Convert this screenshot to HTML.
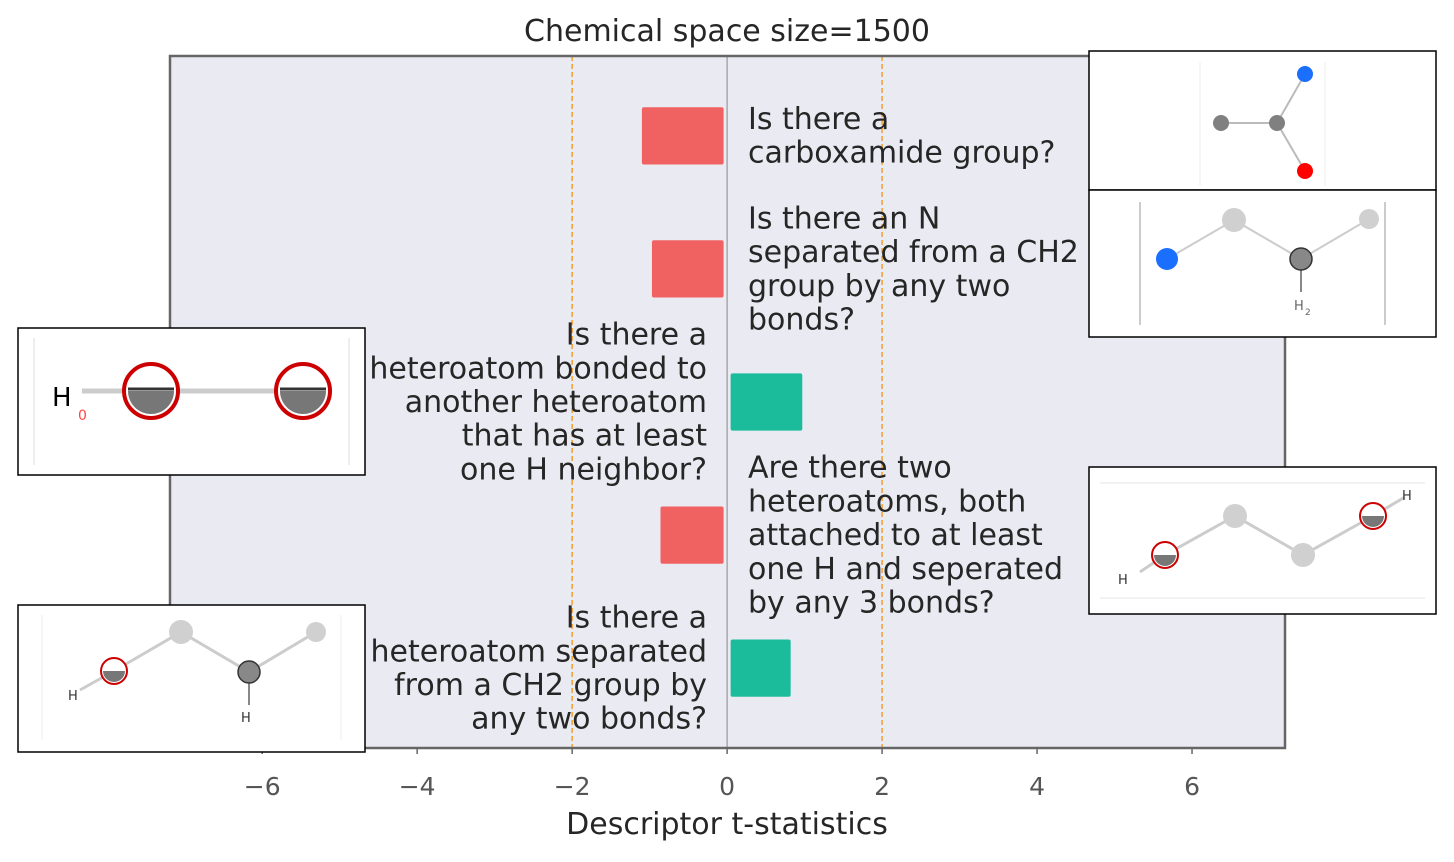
<!DOCTYPE html>
<html><head><meta charset="utf-8"><style>
body{margin:0;background:#fff;}
svg text{font-family:"DejaVu Sans","Liberation Sans",sans-serif;}
</style></head><body>
<svg id="chart" width="1454" height="857" xmlns="http://www.w3.org/2000/svg">
<rect x="0" y="0" width="1454" height="857" fill="#fff"/>
<text x="727" y="41" font-size="30" text-anchor="middle" fill="#262626">Chemical space size=1500</text>
<rect x="170" y="56" width="1115" height="692" fill="#eaeaf2"/>
<g id="grid"></g>
<g id="bars"></g>
<g id="labels"></g>
<rect x="170" y="56" width="1115" height="692" fill="none" stroke="#666" stroke-width="2.5"/>
<g id="ticks"></g>
<text x="727" y="834" font-size="30" text-anchor="middle" fill="#262626">Descriptor t-statistics</text>

<g>
<rect x="1089" y="51" width="347" height="139" fill="#fff" stroke="#000" stroke-width="1.5"/>
<line x1="1200" y1="62" x2="1200" y2="186" stroke="#eee"/><line x1="1325" y1="62" x2="1325" y2="186" stroke="#eee"/>
<line x1="1221" y1="123" x2="1277" y2="123" stroke="#bbb" stroke-width="2"/>
<line x1="1277" y1="123" x2="1305" y2="74" stroke="#bbb" stroke-width="2"/>
<line x1="1277" y1="123" x2="1305" y2="171" stroke="#bbb" stroke-width="2"/>
<circle cx="1221" cy="123" r="8" fill="#808080"/><circle cx="1277" cy="123" r="8" fill="#808080"/>
<circle cx="1305" cy="74" r="8" fill="#1a6fff"/><circle cx="1305" cy="171" r="8" fill="#ff0000"/>
</g>
<g>
<rect x="1089" y="190" width="347" height="147" fill="#fff" stroke="#000" stroke-width="1.5"/>
<line x1="1140" y1="202" x2="1140" y2="325" stroke="#ccc" stroke-width="2"/><line x1="1385" y1="202" x2="1385" y2="325" stroke="#ccc" stroke-width="2"/>
<polyline points="1167,259 1234,220 1301,259 1369,219" fill="none" stroke="#ccc" stroke-width="2"/>
<line x1="1301" y1="259" x2="1301" y2="292" stroke="#888" stroke-width="2"/>
<circle cx="1167" cy="259" r="11" fill="#1a6fff"/><circle cx="1234" cy="220" r="12" fill="#d0d0d0"/>
<circle cx="1369" cy="219" r="10" fill="#d0d0d0"/><circle cx="1301" cy="259" r="11" fill="#888" stroke="#333" stroke-width="1.5"/>
<text x="1294" y="310" font-size="13" fill="#666">H</text><text x="1305" y="315" font-size="9" fill="#666">2</text>
</g>
<g>
<rect x="18" y="328" width="347" height="147" fill="#fff" stroke="#000" stroke-width="1.5"/>
<line x1="34" y1="338" x2="34" y2="465" stroke="#ddd"/><line x1="349" y1="338" x2="349" y2="465" stroke="#ddd"/>
<line x1="82" y1="391" x2="305" y2="391" stroke="#ccc" stroke-width="5"/>
<text x="52" y="406" font-size="26" fill="#000">H</text><text x="78" y="420" font-size="14" fill="#f44">0</text>
<circle cx="151" cy="391" r="27" fill="#fff" stroke="#c00" stroke-width="4"/>
<path d="M128,391 A23,23 0 0 0 174,391 Z" fill="#777"/><line x1="128" y1="389" x2="174" y2="389" stroke="#333" stroke-width="3"/>
<circle cx="303" cy="391" r="27" fill="#fff" stroke="#c00" stroke-width="4"/>
<path d="M280,391 A23,23 0 0 0 326,391 Z" fill="#777"/><line x1="280" y1="389" x2="326" y2="389" stroke="#333" stroke-width="3"/>
</g>
<g>
<rect x="1089" y="467" width="347" height="147" fill="#fff" stroke="#000" stroke-width="1.5"/>
<line x1="1100" y1="483" x2="1425" y2="483" stroke="#e5e5e5"/><line x1="1100" y1="598" x2="1425" y2="598" stroke="#e5e5e5"/>
<polyline points="1140,572 1165,555 1235,516 1303,555 1373,516 1405,497" fill="none" stroke="#ccc" stroke-width="3"/>
<circle cx="1235" cy="516" r="12" fill="#d0d0d0"/><circle cx="1303" cy="555" r="12" fill="#d0d0d0"/>
<circle cx="1165" cy="555" r="13" fill="#fff" stroke="#c00" stroke-width="2"/><path d="M1154,555 A11,11 0 0 0 1176,555 Z" fill="#777"/>
<circle cx="1373" cy="516" r="13" fill="#fff" stroke="#c00" stroke-width="2"/><path d="M1362,516 A11,11 0 0 0 1384,516 Z" fill="#777"/>
<text x="1118" y="584" font-size="13" fill="#333">H</text><text x="1402" y="500" font-size="13" fill="#333">H</text>
</g>
<g>
<rect x="18" y="605" width="347" height="147" fill="#fff" stroke="#000" stroke-width="1.5"/>
<line x1="42" y1="615" x2="42" y2="740" stroke="#eee"/><line x1="341" y1="615" x2="341" y2="740" stroke="#eee"/>
<polyline points="80,690 114,671 181,632 249,672 316,632" fill="none" stroke="#ccc" stroke-width="3"/>
<line x1="249" y1="672" x2="249" y2="705" stroke="#888" stroke-width="2"/>
<circle cx="181" cy="632" r="12" fill="#d0d0d0"/><circle cx="316" cy="632" r="10" fill="#d0d0d0"/>
<circle cx="249" cy="672" r="11" fill="#888" stroke="#333" stroke-width="1.5"/>
<circle cx="114" cy="671" r="13" fill="#fff" stroke="#c00" stroke-width="2"/><path d="M103,671 A11,11 0 0 0 125,671 Z" fill="#777"/>
<text x="68" y="700" font-size="13" fill="#333">H</text><text x="241" y="722" font-size="13" fill="#333">H</text>
</g>
</svg>
<script>
const categories = ["carboxamide","n-ch2","heteroatom-h","two-heteroatoms","heteroatom-ch2"];
const tstats = [-1.10, -0.97, 0.97, -0.86, 0.82];
const xTicks = [-6,-4,-2,0,2,4,6];
const xTickLabels = ["\u22126","\u22124","\u22122","0","2","4","6"];
const labelLines = [
 ["Is there a","carboxamide group?"],
 ["Is there an N","separated from a CH2","group by any two","bonds?"],
 ["Is there a","heteroatom bonded to","another heteroatom","that has at least","one H neighbor?"],
 ["Are there two","heteroatoms, both","attached to at least","one H and seperated","by any 3 bonds?"],
 ["Is there a","heteroatom separated","from a CH2 group by","any two bonds?"]
];
const NS="http://www.w3.org/2000/svg";
const X0=170,X1=1285,Y0=56,Y1=748,xmin=-7.19,xmax=7.2,ymin=-0.6,ymax=4.6;
const xs=v=>X0+(v-xmin)/(xmax-xmin)*(X1-X0);
const ys=i=>Y0+(i-ymin)/(ymax-ymin)*(Y1-Y0);
function mk(tag,attrs,parent){const e=document.createElementNS(NS,tag);for(const k in attrs)e.setAttribute(k,attrs[k]);document.getElementById(parent).appendChild(e);return e;}
let e=mk('line',{x1:xs(0),x2:xs(0),y1:Y0,y2:Y1,stroke:'#999','stroke-width':1.2},'grid');


[-2,2].forEach(v=>{const l=mk('line',{x1:xs(v),x2:xs(v),y1:Y0,y2:Y1,stroke:'#f0a030','stroke-width':1.5,'stroke-dasharray':'5,3'},'grid');

});
const bh=(ys(1)-ys(0))*0.43;
tstats.forEach((v,i)=>{
 const a=xs(v), b=v<0?xs(0)-3.5:xs(0)+3.5;
 const r=mk('rect',{x:Math.min(a,b),y:ys(i)-bh/2,width:Math.abs(b-a),height:bh,rx:2,fill:v<0?'#f06262':'#1abc9c'},'bars');
 
 
 const lines=labelLines[i], n=lines.length, lh=33.7;
 const t=mk('text',{'font-size':30,fill:'#262626','text-anchor':v<0?'start':'end'},'labels');
 
 
 const tx=v<0?748:707;
 lines.forEach((s,j)=>{const sp=document.createElementNS(NS,'tspan');sp.setAttribute('x',tx);sp.setAttribute('y',ys(i)-(n-1)*lh/2+j*lh+10);sp.textContent=s;t.appendChild(sp);});
});
xTicks.forEach((v,i)=>{
 const l=mk('line',{x1:xs(v),x2:xs(v),y1:Y1,y2:Y1+6,stroke:'#666','stroke-width':1.5},'ticks');
 
 
 const t=mk('text',{x:xs(v),y:795,'font-size':25,'text-anchor':'middle',fill:'#555'},'ticks');
 
 
 t.textContent=xTickLabels[i];
});
</script>
</body></html>
